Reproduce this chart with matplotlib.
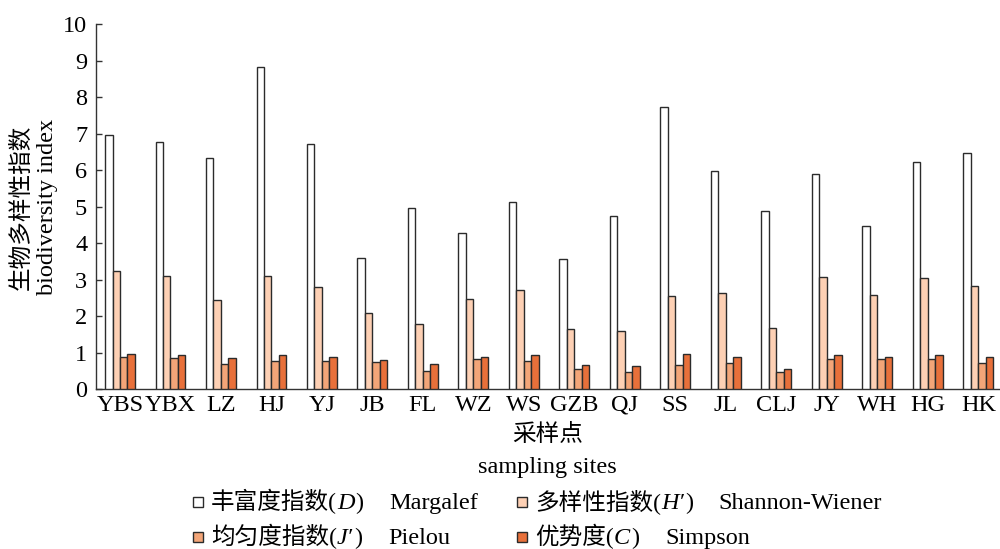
import matplotlib
matplotlib.use("Agg")
import matplotlib.pyplot as plt
from matplotlib.patches import Rectangle
import numpy as np

plt.rcParams['font.family'] = ['Liberation Serif', 'Noto Sans CJK SC']
plt.rcParams['axes.unicode_minus'] = False

sites = ["YBS", "YBX", "LZ", "HJ", "YJ", "JB", "FL", "WZ", "WS", "GZB",
         "QJ", "SS", "JL", "CLJ", "JY", "WH", "HG", "HK"]
margalef = [6.97, 6.77, 6.34, 8.83, 6.70, 3.59, 4.95, 4.28, 5.12, 3.55,
            4.74, 7.72, 5.98, 4.89, 5.90, 4.46, 6.21, 6.46]
shannon = [3.22, 3.11, 2.43, 3.11, 2.80, 2.09, 1.78, 2.48, 2.72, 1.65,
           1.58, 2.55, 2.63, 1.66, 3.06, 2.57, 3.04, 2.81]
pielou = [0.88, 0.86, 0.68, 0.76, 0.76, 0.75, 0.50, 0.81, 0.78, 0.54,
          0.46, 0.66, 0.72, 0.46, 0.83, 0.83, 0.83, 0.72]
simpson = [0.95, 0.92, 0.85, 0.93, 0.88, 0.80, 0.69, 0.87, 0.92, 0.65,
           0.64, 0.96, 0.87, 0.56, 0.93, 0.88, 0.94, 0.88]
yticks = [0, 1, 2, 3, 4, 5, 6, 7, 8, 9, 10]

# legend label pieces: (chinese name, italic symbol, english name)
legend_cn = ["丰富度指数", "多样性指数", "均匀度指数", "优势度"]
legend_sym = ["D", "H′", "J′", "C"]
legend_en = ["Margalef", "Shannon-Wiener", "Pielou", "Simpson"]

colors = ["#FFFFFF", "#FDD0B4", "#F3A578", "#E8703A"]
edge = "#2b2b2b"
FS = 17.5
W, H = 1000, 549

fig = plt.figure(figsize=(10, 5.49), dpi=100)
ax = fig.add_axes([0.0955, 0.2914, 0.9045, 0.6648])

x = np.arange(len(sites))
w = 0.148
series = [margalef, shannon, pielou, simpson]
for k, (vals, c) in enumerate(zip(series, colors)):
    ax.bar(x + (k - 1.5) * w, vals, width=w, color=c, edgecolor=edge,
           linewidth=1.0, zorder=3, label=legend_en[k])

ax.set_xlim(-0.485, 17.43)
ax.set_ylim(0, 10)
ax.set_yticks(yticks)
ax.set_xticks(x)
ax.set_xticklabels(sites)
for s in ["top", "right"]:
    ax.spines[s].set_visible(False)
for s in ["left", "bottom"]:
    ax.spines[s].set_color("#333333")
    ax.spines[s].set_linewidth(1.0)
ax.tick_params(axis='y', direction='in', length=4, width=1.0, color="#333333",
               labelsize=FS, pad=6)
ax.tick_params(axis='x', length=0, labelsize=FS, pad=4)

fig.text(22 / W, 1 - 207 / H, "生物多样性指数", rotation=90, ha='center',
         va='center', fontsize=17)
fig.text(48 / W, 1 - 207 / H, "biodiversity index", rotation=90, ha='center',
         va='center', fontsize=FS)
fig.text(547.5 / W, 1 - 435 / H, "采样点", ha='center', va='center', fontsize=17)
fig.text(547.5 / W, 1 - 468 / H, "sampling sites", ha='center', va='center',
         fontsize=FS)

# manual legend (mixed upright / italic text)
renderer = fig.canvas.get_renderer()
pos = [(198, 502), (522, 502), (198, 537), (522, 537)]
msz = 10
for k in range(4):
    mx, my = pos[k]
    fig.add_artist(Rectangle(((mx - msz / 2) / W, 1 - (my + msz / 2) / H),
                             msz / W, msz / H, transform=fig.transFigure,
                             facecolor=colors[k], edgecolor=edge, linewidth=1.0))
    xp = mx + 13
    yb = 1 - (my + 7) / H
    pieces = [(legend_cn[k] + "(", 'normal', 0), (legend_sym[k], 'italic', 1),
              (")", 'normal', 26), (legend_en[k], 'normal', 0)]
    for s, st, gap in pieces:
        t = fig.text(xp / W, yb, s, fontsize=FS if st == 'italic' or s == ")" or
                     s in legend_en else 17, style=st, ha='left', va='baseline')
        bb = t.get_window_extent(renderer)
        xp = bb.x1 + gap

fig.savefig("out.png", dpi=100)
